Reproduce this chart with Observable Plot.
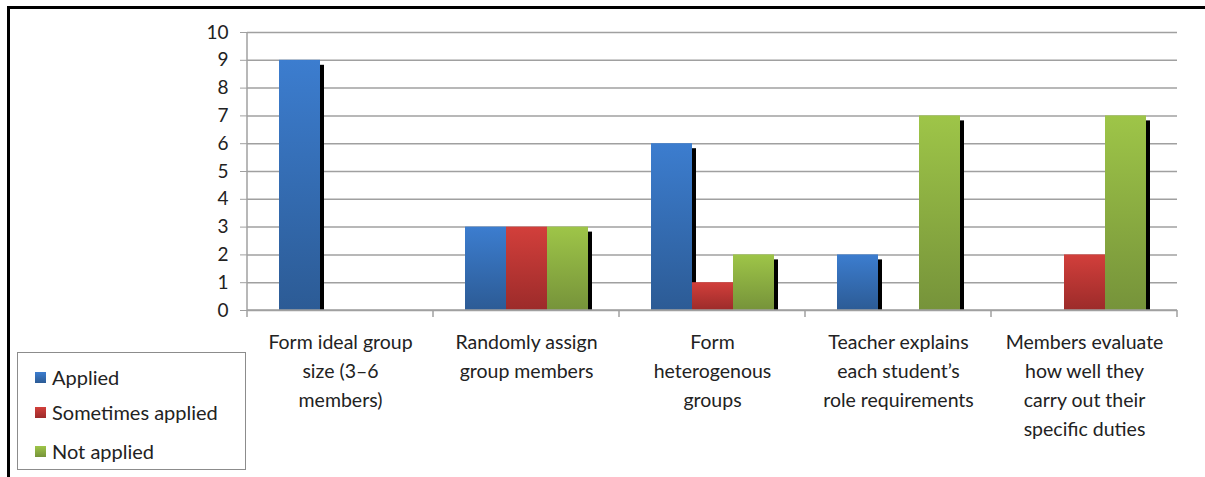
<!DOCTYPE html>
<html><head><meta charset="utf-8">
<script src="https://cdn.jsdelivr.net/npm/d3@7"></script>
<script src="https://cdn.jsdelivr.net/npm/@observablehq/plot@0.6"></script>
<style>
html,body{margin:0;padding:0;background:#fff;}
#wrap{position:relative;width:1205px;height:477px;overflow:hidden;font-family:Lato,"Open Sans",sans-serif;color:#222;}
#frame{position:absolute;left:7px;top:6px;right:-10px;bottom:-10px;border-left:3px solid #000;border-top:3px solid #000;}
#chart{position:absolute;left:0;top:0;}
#legend{position:absolute;left:17px;top:352px;width:229px;height:118px;border:1px solid #8c8c8c;background:#fff;box-sizing:border-box;font-size:20px;}
.item{position:absolute;left:17px;display:flex;align-items:center;height:24px;}
.sw{width:11px;height:11px;margin-right:6px;}
</style></head>
<body>
<svg width="0" height="0" style="position:absolute">
<defs>
<linearGradient id="gA" x1="0" y1="0" x2="0" y2="1"><stop offset="0" stop-color="#3c7dcf"/><stop offset="1" stop-color="#2c5b95"/></linearGradient>
<linearGradient id="gS" x1="0" y1="0" x2="0" y2="1"><stop offset="0" stop-color="#d23f3b"/><stop offset="1" stop-color="#9c2b2a"/></linearGradient>
<linearGradient id="gN" x1="0" y1="0" x2="0" y2="1"><stop offset="0" stop-color="#9ec548"/><stop offset="1" stop-color="#76933a"/></linearGradient>
</defs></svg>
<div id="wrap">
<div id="frame"></div>
<div id="chart"></div>
<div id="legend"></div>
</div>
<script>
const categories = [
  "Form ideal group\nsize (3\u20136\nmembers)",
  "Randomly assign\ngroup members",
  "Form\nheterogenous\ngroups",
  "Teacher explains\neach student\u2019s\nrole requirements",
  "Members evaluate\nhow well they\ncarry out their\nspecific duties"
];
const series = ["Applied", "Sometimes applied", "Not applied"];
const applied = [9, 3, 6, 2, 0];
const sometimesApplied = [0, 3, 1, 0, 2];
const notApplied = [0, 3, 2, 7, 7];
const yTicks = [0, 1, 2, 3, 4, 5, 6, 7, 8, 9, 10];

const seriesValues = [applied, sometimesApplied, notApplied];
const fills = ["url(#gA)", "url(#gS)", "url(#gN)"];
const swatchCss = ["linear-gradient(#3c7dcf,#2c5b95)", "linear-gradient(#d23f3b,#9c2b2a)", "linear-gradient(#9ec548,#76933a)"];

const data = categories.flatMap((c, i) => series.map((s, j) => ({category: c, series: s, value: seriesValues[j][i]})));

const chart = Plot.plot({
  width: 1205, height: 477,
  marginLeft: 247, marginRight: 28, marginTop: 32, marginBottom: 167,
  style: {fontFamily: "Lato, 'Open Sans', sans-serif", fontSize: "18px", color: "#222", background: "transparent"},
  fx: {domain: categories, padding: 0, label: null},
  x: {domain: series, paddingInner: 0, paddingOuter: 0.74, axis: null},
  y: {domain: [0, 10], label: null},
  color: {domain: series, range: fills},
  marks: [
    Plot.gridY(yTicks, {stroke: "#a0a0a0", strokeOpacity: 1, strokeWidth: 1.5}),
    Plot.barY(data, {filter: d => d.value > 0, fx: "category", x: "series", y: "value", fill: "#000", dx: 4, insetTop: 5}),
    Plot.barY(data, {fx: "category", x: "series", y: "value", fill: "series"}),
    Plot.axisY(yTicks, {tickSize: 7, tickPadding: 12, stroke: "#a0a0a0", fill: "#222", fontSize: 19, label: null}),
    Plot.axisFx({anchor: "bottom", tickSize: 0, tickPadding: 18, lineHeight: 1.49, fontSize: 19.5, label: null, fill: "#222"})
  ]
});
document.getElementById("chart").appendChild(chart);

// axis lines and category boundary ticks, positioned with Plot's own scales
const fxs = chart.scale("fx"), ys = chart.scale("y");
const y0 = ys.apply(0), y10 = ys.apply(10);
const bounds = categories.map(c => fxs.apply(c));
bounds.push(bounds[bounds.length - 1] + fxs.bandwidth);
const g = d3.select(chart).append("g").attr("stroke", "#a0a0a0").attr("stroke-width", 1.5);
g.append("line").attr("x1", bounds[0]).attr("x2", bounds[0]).attr("y1", y10).attr("y2", y0);
g.append("line").attr("x1", bounds[0]).attr("x2", bounds[bounds.length - 1]).attr("y1", y0).attr("y2", y0);
bounds.forEach(b => g.append("line").attr("x1", b).attr("x2", b).attr("y1", y0).attr("y2", y0 + 7));

// legend
const legend = document.getElementById("legend");
const tops = [12, 47, 86];
series.forEach((s, j) => {
  const it = document.createElement("div");
  it.className = "item";
  it.style.top = tops[j] + "px";
  it.innerHTML = `<div class="sw" style="background:${swatchCss[j]}"></div><span>${s}</span>`;
  legend.appendChild(it);
});
</script>
</body></html>
